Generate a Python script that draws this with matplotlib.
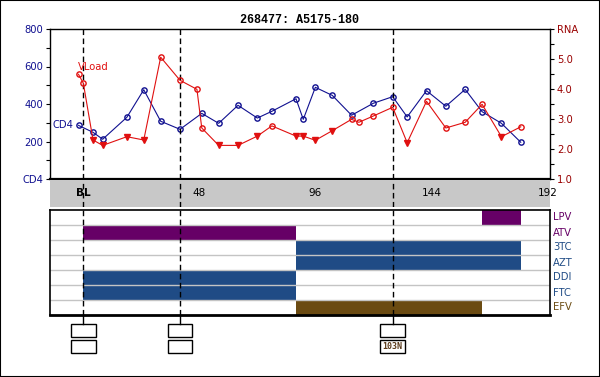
import numpy as np
import matplotlib
matplotlib.use('Agg')
import matplotlib.pyplot as plt
from matplotlib.patches import Rectangle

# data ########################################################################

cd4_weeks = [-2, 4, 8, 18, 25, 32, 40, 49, 56, 64, 72, 78, 88, 91, 96, 103,
             111, 120, 128, 134, 142, 150, 158, 165, 173, 181]
cd4 = [286, 249, 212, 329, 476, 308, 265, 350, 297, 393, 325, 361, 428, 318,
       489, 446, 340, 404, 439, 331, 471, 388, 478, 359, 297, 196]

rna_weeks = [-2, 0, 4, 8, 18, 25, 32, 40, 47, 49, 56, 64, 72, 78, 88, 91, 96,
             103, 111, 114, 120, 128, 134, 142, 150, 158, 165, 173, 181]
rna = [4.49, 4.19, 2.30, 2.12, 2.41, 2.30, 5.06, 4.29, 3.99, 2.70, 2.12, 2.12,
       2.43, 2.77, 2.43, 2.43, 2.29, 2.61, 2.99, 2.89, 3.10, 3.39, 2.21, 3.59,
       2.70, 2.89, 3.49, 2.41, 2.74]
below_limit = [0, 0, 1, 1, 1, 1, 0, 0, 0, 0, 1, 1, 1, 0, 1, 1, 1, 1, 0, 0, 0,
               0, 1, 0, 0, 0, 0, 1, 0]

drugs = ['LPV', 'ATV', '3TC', 'AZT', 'DDI', 'FTC', 'EFV']
drug_start = [165, 0, 88, 88, 0, 0, 88]
drug_stop = [181, 88, 181, 181, 88, 88, 165]
drug_colors = ['#660066', '#660066', '#1f4b85', '#1f4b85', '#1f4b85',
               '#1f4b85', '#6b4b12']

event_weeks = [0, 40, 128]
event_upper = ['', '', '']
event_lower = ['', '', '103N']

week_ticks = list(range(-12, 193, 12))
week_labels = {0: 'BL', 48: '48', 96: '96', 144: '144', 192: '192'}

cd4_ticks = [0, 200, 400, 600, 800]
cd4_labels = ['CD4', '200', '400', '600', '800']
rna_ticks = [1, 2, 3, 4, 5, 6]
rna_labels = ['1.0', '2.0', '3.0', '4.0', '5.0', 'RNA']

title = '268477: A5175-180'

# layout ######################################################################

W, H = 600, 377
NAVY = '#101090'
DRED = '#990000'
RED = '#e01010'
XLIM = (-13.8, 193.1)

def box(x0, y0, x1, y1):
    # pixel box -> figure fraction [left, bottom, width, height]
    return [x0 / W, 1 - y1 / H, (x1 - x0) / W, (y1 - y0) / H]

plt.rcParams['font.family'] = 'DejaVu Sans'
fig = plt.figure(figsize=(6, 3.77), dpi=100)
fig.patches.append(Rectangle((0, 0), 1, 1, transform=fig.transFigure,
                             fill=False, ec='black', lw=1.5))
fig.text(0.5, 1 - 20 / H, title, ha='center', va='center',
         family='Liberation Mono', weight='bold', size=8.5)

## - CD4 / viral load panel ----------------------------------------------------

ax = fig.add_axes(box(50, 29, 550, 179))
ax.set_xlim(*XLIM)
ax.set_ylim(0, 800)
for s in ax.spines.values():
    s.set_linewidth(1.0)
ax.spines['bottom'].set_linewidth(1.6)
ax.set_xticks(week_ticks)
ax.set_xticklabels([])
ax.tick_params(axis='x', direction='out', length=3, width=0.8)
ax.set_yticks(cd4_ticks)
ax.set_yticklabels(cd4_labels, color=NAVY, size=7.2)
ax.set_yticks(range(0, 801, 100), minor=True)
ax.tick_params(axis='y', which='both', direction='out', length=3, width=0.8,
               pad=2)

ax.plot(cd4_weeks, cd4, color=NAVY, lw=0.8, marker='o', ms=3.8,
        mfc='none', mec=NAVY, mew=1.0, zorder=3)
ax.text(-4, cd4[0], 'CD4', color=NAVY, size=7.2, ha='right', va='center')

ax2 = ax.twinx()
ax2.set_xlim(*XLIM)
ax2.set_ylim(1, 6)
ax2.set_yticks(rna_ticks)
ax2.set_yticklabels(rna_labels, color=DRED, size=7.2)
ax2.set_yticks(np.arange(1, 6.01, 0.5), minor=True)
ax2.tick_params(axis='y', which='both', direction='out', length=3, width=0.8,
                pad=2)
for s in ax2.spines.values():
    s.set_visible(False)

rw = np.array(rna_weeks)
rv = np.array(rna)
bl = np.array(below_limit, dtype=bool)
ax2.plot(rw, rv, color=RED, lw=0.8, zorder=3)
ax2.plot(rw[~bl], rv[~bl], ls='none', marker='o', ms=3.8, mfc='none',
         mec=RED, mew=1.0, zorder=4)
ax2.plot(rw[bl], rv[bl], ls='none', marker='v', ms=4.2, color=RED,
         zorder=4)
ax2.text(-2.3, 4.73, 'VLoad', color=RED, size=7.2, ha='left',
         va='center')

## - week band -----------------------------------------------------------------

band = fig.add_axes(box(50, 179.5, 550, 207))
band.set_xlim(*XLIM)
band.set_facecolor('#c8c8c8')
band.set_xticks([])
band.set_yticks([])
for s in band.spines.values():
    s.set_visible(False)
for wk, lab in week_labels.items():
    band.text(wk, 0.5, lab, ha='center', va='center', size=7.5,
              weight='bold' if lab == 'BL' else 'normal',
              transform=band.get_xaxis_transform())

## - drug panel ----------------------------------------------------------------

axd = fig.add_axes(box(50, 210, 550, 315))
axd.set_xlim(*XLIM)
axd.set_ylim(0, len(drugs))
rows = [len(drugs) - 0.5 - i for i in range(len(drugs))]
axd.barh(rows, np.array(drug_stop) - np.array(drug_start), left=drug_start,
         height=1.0, color=drug_colors, zorder=1)
for y in range(1, len(drugs)):
    axd.axhline(y, color='#c4c4c4', lw=1.0, zorder=2)
axd.set_xticks([])
axd.set_yticks([])
for s in axd.spines.values():
    s.set_linewidth(1.2)
axd.spines['bottom'].set_linewidth(2.0)
for r, name, c in zip(rows, drugs, drug_colors):
    axd.text(1.006, r, name, color=c, size=7.2, ha='left', va='center',
             transform=axd.get_yaxis_transform())

## - event markers -------------------------------------------------------------

axe = fig.add_axes(box(50, 315, 550, 360))
axe.set_xlim(*XLIM)
axe.set_ylim(360, 315)
axe.axis('off')
for wk, up, lo in zip(event_weeks, event_upper, event_lower):
    axe.plot([wk, wk], [315, 324], color='black', lw=1.0)
    for (y0, y1), txt in zip([(324, 337), (340, 353)], [up, lo]):
        axe.add_patch(Rectangle((wk - 5.1, y0), 10.2, y1 - y0, fill=False,
                                ec='black', lw=1.0))
        if txt:
            axe.text(wk, (y0 + y1) / 2, txt, ha='center', va='center',
                     size=6, color='#5a3a1a', family='DejaVu Sans Mono',
                     weight='bold')

# dashed event lines through every panel
for a in (ax, band, axd):
    for wk in event_weeks:
        a.axvline(wk, color='black', lw=1.0, ls=(0, (4, 2.5)), zorder=5)

fig.savefig('out.png', dpi=100)
